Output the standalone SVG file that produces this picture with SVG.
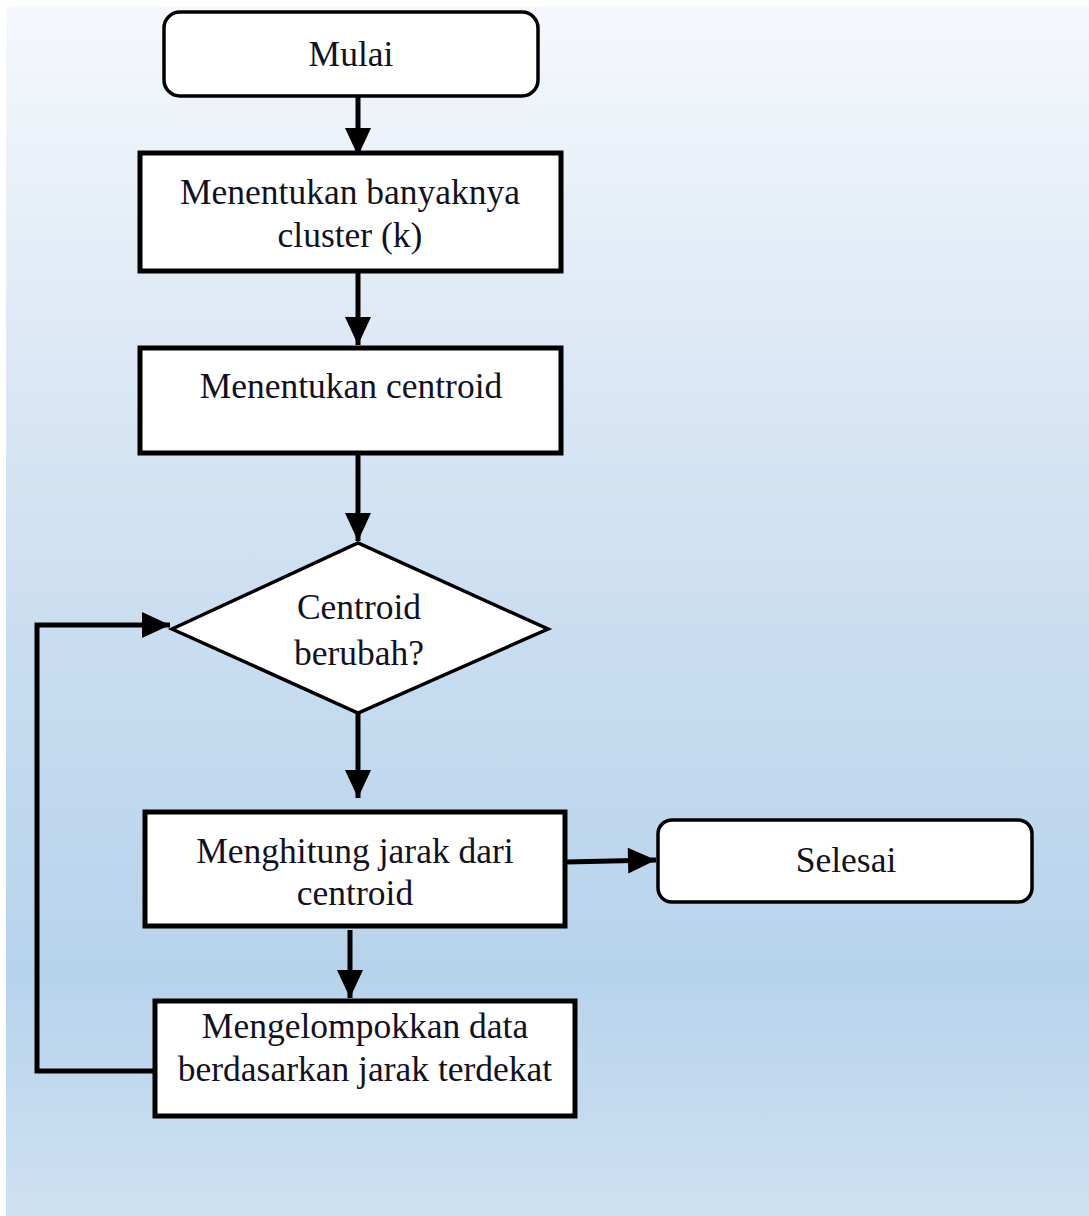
<svg xmlns="http://www.w3.org/2000/svg" width="1089" height="1216" viewBox="0 0 1089 1216">
<defs>
<linearGradient id="bg" x1="0" y1="0" x2="0" y2="1">
<stop offset="0" stop-color="#f5f8fc"/>
<stop offset="0.33" stop-color="#d9e6f4"/>
<stop offset="0.58" stop-color="#c5dbef"/>
<stop offset="0.8" stop-color="#b7d3ec"/>
<stop offset="1" stop-color="#cee1f1"/>
</linearGradient>
<marker id="ah" markerUnits="userSpaceOnUse" markerWidth="32" markerHeight="32" viewBox="0 0 32 32" refX="30" refY="16" orient="auto">
<path d="M2,3 L30,16 L2,29 Z" fill="#000"/>
</marker>
<style>
.t{font-family:'Liberation Serif','Times New Roman',serif;font-size:35.5px;fill:#111122;text-anchor:middle}
.box{fill:#fff;stroke:#000;stroke-width:5}
.rnd{fill:#fff;stroke:#000;stroke-width:3.5}
.c{fill:none;stroke:#000;stroke-width:5}
</style>
</defs>
<rect x="0" y="0" width="1089" height="1216" fill="#fff"/>
<rect x="6" y="7" width="1083" height="1209" fill="url(#bg)"/>
<g id="connectors">
<line class="c" x1="358" y1="97" x2="358" y2="156" marker-end="url(#ah)"/>
<line class="c" x1="358" y1="273" x2="358" y2="345" marker-end="url(#ah)"/>
<line class="c" x1="358" y1="455" x2="358" y2="541" marker-end="url(#ah)"/>
<line class="c" x1="358" y1="713" x2="358" y2="798" marker-end="url(#ah)"/>
<path class="c" d="M566,862 L656,860" marker-end="url(#ah)"/>
<line class="c" x1="350" y1="930" x2="350" y2="998" marker-end="url(#ah)"/>
<path class="c" d="M153,1071 L37,1071 L37,625 L170,625" marker-end="url(#ah)"/>
</g>
<g id="mulai">
<rect class="rnd" x="164" y="12" width="374" height="84" rx="16"/>
<text class="t" x="351" y="66">Mulai</text>
</g>
<g id="tentukan-k">
<rect class="box" x="140" y="153" width="421" height="118"/>
<text class="t" x="350" y="204">Menentukan banyaknya</text>
<text class="t" x="350" y="247">cluster (k)</text>
</g>
<g id="tentukan-centroid">
<rect class="box" x="140" y="348" width="421" height="105"/>
<text class="t" x="351" y="398">Menentukan centroid</text>
</g>
<g id="centroid-berubah">
<polygon points="172,629 358,543 548,629 358,713" fill="#fff" stroke="#000" stroke-width="3.5"/>
<text class="t" x="359" y="619">Centroid</text>
<text class="t" x="359" y="665">berubah?</text>
</g>
<g id="hitung-jarak">
<rect class="box" x="145" y="812" width="420" height="114"/>
<text class="t" x="355" y="863">Menghitung jarak dari</text>
<text class="t" x="355" y="905">centroid</text>
</g>
<g id="selesai">
<rect class="rnd" x="658" y="820" width="374" height="82" rx="14"/>
<text class="t" x="846" y="872">Selesai</text>
</g>
<g id="kelompokkan">
<rect class="box" x="155" y="1001" width="420" height="115"/>
<text class="t" x="365" y="1038">Mengelompokkan data</text>
<text class="t" x="365" y="1081">berdasarkan jarak terdekat</text>
</g>
</svg>
